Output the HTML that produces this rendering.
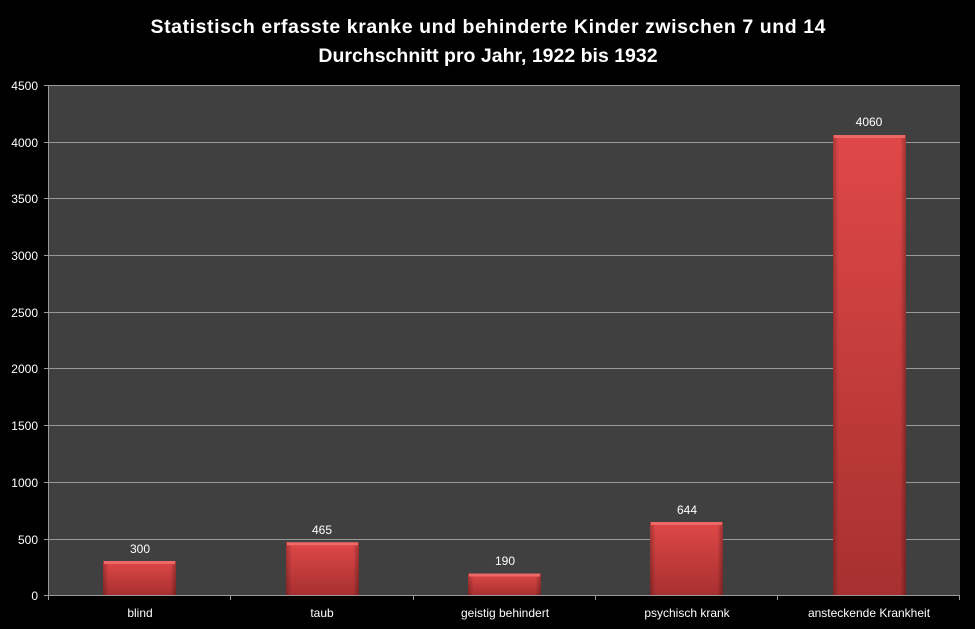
<!DOCTYPE html><html><head><style>html,body{margin:0;padding:0;background:#000;overflow:hidden}svg{display:block}</style></head><body>
<svg width="975" height="629" xmlns="http://www.w3.org/2000/svg" font-family="Liberation Sans, sans-serif">
<defs><linearGradient id="g" x1="0" y1="0" x2="0" y2="1"><stop offset="0" stop-color="#e04848"/><stop offset="1" stop-color="#a83030"/></linearGradient>
<linearGradient id="h" x1="0" y1="0" x2="1" y2="0"><stop offset="0" stop-color="#000" stop-opacity=".25"/><stop offset=".08" stop-color="#000" stop-opacity="0"/><stop offset=".92" stop-color="#000" stop-opacity="0"/><stop offset="1" stop-color="#000" stop-opacity=".3"/></linearGradient></defs>
<rect width="975" height="629" fill="#000"/>
<text x="488" y="33" fill="#fff" font-size="19.5" font-weight="bold" text-anchor="middle" textLength="675">Statistisch erfasste kranke und behinderte Kinder zwischen 7 und 14</text>
<text x="488" y="62" fill="#fff" font-size="19.5" font-weight="bold" text-anchor="middle">Durchschnitt pro Jahr, 1922 bis 1932</text>
<rect x="48.7" y="85" width="911.3" height="510" fill="#404040"/>
<g stroke="#999" stroke-width="1">
<line x1="44" y1="85.5" x2="960" y2="85.5"/><line x1="44" y1="142.5" x2="960" y2="142.5"/><line x1="44" y1="198.5" x2="960" y2="198.5"/><line x1="44" y1="255.5" x2="960" y2="255.5"/><line x1="44" y1="312.5" x2="960" y2="312.5"/><line x1="44" y1="368.5" x2="960" y2="368.5"/><line x1="44" y1="425.5" x2="960" y2="425.5"/><line x1="44" y1="482.5" x2="960" y2="482.5"/><line x1="44" y1="539.5" x2="960" y2="539.5"/><line x1="44" y1="595.5" x2="960" y2="595.5"/>
<line x1="48.5" y1="85" x2="48.5" y2="600"/><line x1="230.5" y1="595" x2="230.5" y2="600"/><line x1="413.5" y1="595" x2="413.5" y2="600"/><line x1="595.5" y1="595" x2="595.5" y2="600"/><line x1="777.5" y1="595" x2="777.5" y2="600"/><line x1="959.5" y1="595" x2="959.5" y2="600"/>
</g>
<g fill="#fff" font-size="12" text-anchor="end">
<text x="38" y="90">4500</text><text x="38" y="147">4000</text><text x="38" y="203">3500</text><text x="38" y="260">3000</text><text x="38" y="317">2500</text><text x="38" y="373">2000</text><text x="38" y="430">1500</text><text x="38" y="487">1000</text><text x="38" y="544">500</text><text x="38" y="600">0</text>
</g>
<g>
<rect x="103" y="561" width="73" height="34" fill="url(#g)"/><rect x="103" y="561" width="73" height="34" fill="url(#h)"/><rect x="104" y="561" width="71" height="3" fill="#ee6868"/>
<rect x="286" y="542.3" width="73" height="52.7" fill="url(#g)"/><rect x="286" y="542.3" width="73" height="52.7" fill="url(#h)"/><rect x="287" y="542.3" width="71" height="3" fill="#ee6868"/>
<rect x="468" y="573.5" width="73" height="21.5" fill="url(#g)"/><rect x="468" y="573.5" width="73" height="21.5" fill="url(#h)"/><rect x="469" y="573.5" width="71" height="3" fill="#ee6868"/>
<rect x="650" y="522" width="73" height="73" fill="url(#g)"/><rect x="650" y="522" width="73" height="73" fill="url(#h)"/><rect x="651" y="522" width="71" height="3" fill="#ee6868"/>
<rect x="833" y="135" width="73" height="460" fill="url(#g)"/><rect x="833" y="135" width="73" height="460" fill="url(#h)"/><rect x="834" y="135" width="71" height="3" fill="#ee6868"/>
</g>
<g fill="#fff" font-size="12" text-anchor="middle">
<text x="140" y="553">300</text><text x="322" y="534">465</text><text x="505" y="565">190</text><text x="687" y="514">644</text><text x="869" y="126">4060</text>
<text x="140" y="617">blind</text><text x="322" y="617">taub</text><text x="505" y="617">geistig behindert</text><text x="687" y="617">psychisch krank</text><text x="869" y="617">ansteckende Krankheit</text>
</g>
</svg></body></html>
